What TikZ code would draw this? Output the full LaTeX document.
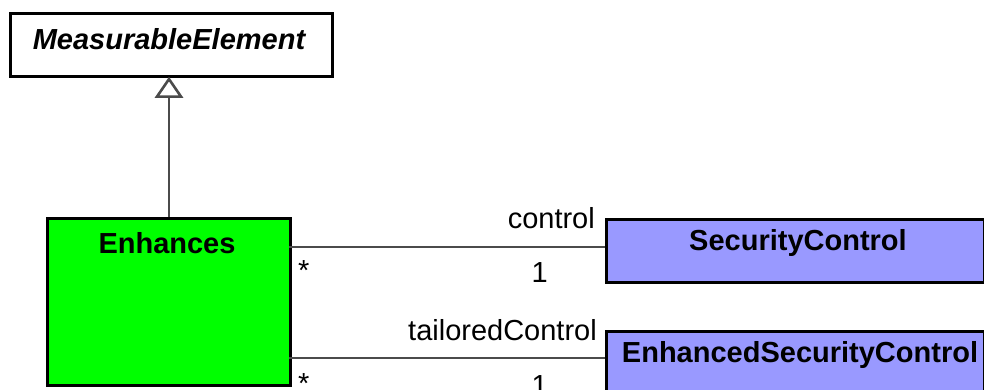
\documentclass[tikz,border=0pt]{standalone}
\usepackage{fontspec}
\setmainfont{Liberation Sans}
\definecolor{umlgreen}{RGB}{0,255,0}
\definecolor{umlblue}{RGB}{153,153,255}
\definecolor{lnk}{RGB}{75,75,75}
\tikzset{
  cls/.style={draw=black, line width=2.6pt, inner sep=0pt, anchor=north west},
  clstext/.style={font=\fontsize{29}{33}\selectfont\bfseries, inner sep=0pt},
  lbl/.style={font=\fontsize{29}{33}\selectfont, inner sep=0pt},
  assoc/.style={draw=lnk, line width=2.8pt},
  gentip/.style={draw=lnk, line width=2.6pt, fill=white, line join=miter}
}
\begin{document}
\begin{tikzpicture}[x=1pt,y=-1pt]
\useasboundingbox (0,0) rectangle (984,390);
\clip (0,0) rectangle (984,390);
% classes
\node[cls, fill=white, minimum width=322pt, minimum height=63pt] (me) at (9,12) {};
\node[clstext, font=\fontsize{29}{33}\selectfont\bfseries\itshape] (metxt) at (169,39) {MeasurableElement};
\node[cls, fill=umlgreen, minimum width=243pt, minimum height=167pt] (enh) at (46,217) {};
\node[clstext] (enhtxt) at (167,243) {Enhances};
\node[cls, fill=umlblue, minimum width=378pt, minimum height=63pt] (sc) at (605,218) {};
\node[clstext] (sctxt) at (798,243) {SecurityControl};
\node[cls, fill=umlblue, minimum width=378pt, minimum height=80pt] (esc) at (605,330) {};
\node[clstext] (esctxt) at (800,355) {EnhancedSecurityControl};
% generalization
\coordinate (g0) at (169,217);
\coordinate (gtip) at (me.south -| g0);
\coordinate (gbase) at ([yshift=-19pt]gtip);
\draw[assoc] (g0) -- (gbase);
\draw[gentip] ([yshift=-1.5pt]gtip) -- ([xshift=-12pt]gbase) -- ([xshift=12pt]gbase) -- cycle;
% associations
\coordinate (a1s) at (289,247);
\coordinate (a1e) at (605,247);
\draw[assoc] (a1s) -- (a1e);
\coordinate (a2s) at (289,358);
\coordinate (a2e) at (605,358);
\draw[assoc] (a2s) -- (a2e);
% labels
\node[lbl, anchor=base east] (l1) at (595,228) {control};
\node[lbl, anchor=base east] (m1) at (548,282) {1};
\node[lbl, anchor=base west] (s1) at (298,280) {*};
\node[lbl, anchor=base east] (l2) at (597,340) {tailoredControl};
\node[lbl, anchor=base east] (m2) at (548,395) {1};
\node[lbl, anchor=base west] (s2) at (298,393) {*};
\end{tikzpicture}
\end{document}
